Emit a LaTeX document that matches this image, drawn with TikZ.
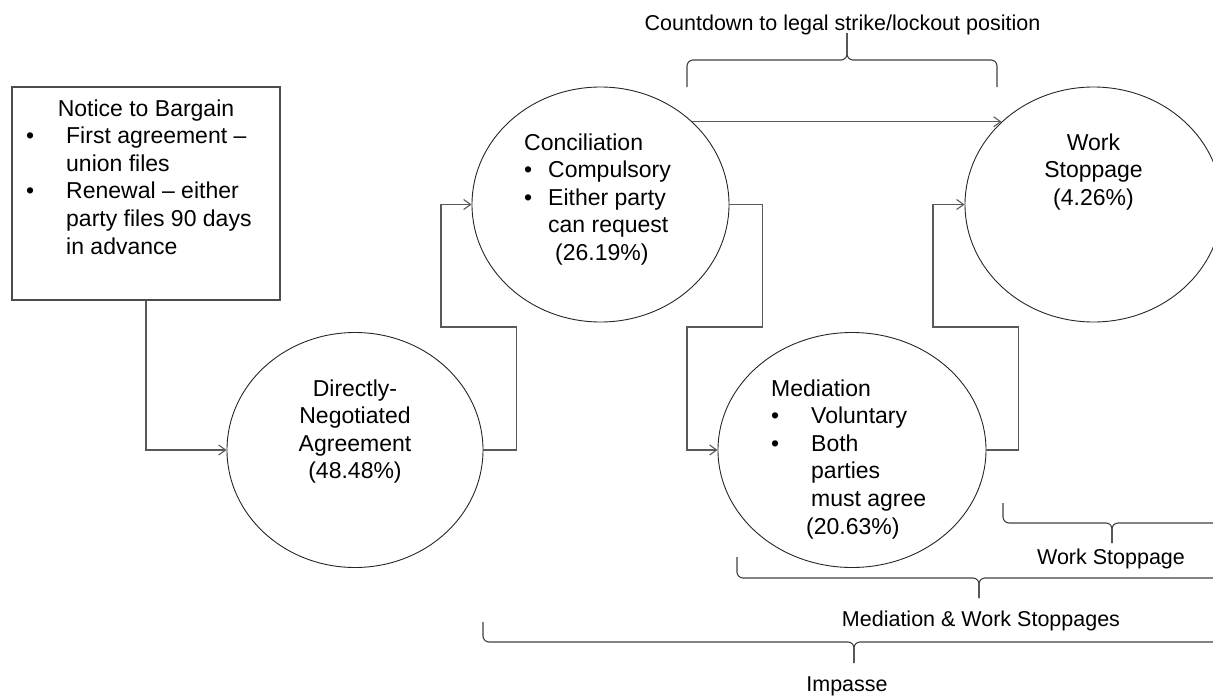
\documentclass[tikz,border=0pt]{standalone}
\usepackage{fontspec}
\setmainfont{Liberation Sans}
\usetikzlibrary{shapes.geometric,arrows.meta}
\begin{document}
\begin{tikzpicture}[x=1pt,y=-1pt,
  ell/.style={draw=black!85,line width=0.9pt,ellipse,inner sep=0pt,minimum height=235pt},
  boxst/.style={draw=black!70,line width=1.1pt,rectangle,inner sep=0pt,minimum width=268pt,minimum height=213pt},
  conn/.style={draw=black!65,line width=1.1pt,-{Straight Barb[length=7pt,width=10pt]}},
  brc/.style={draw=black!75,line width=1.1pt,rounded corners=6pt},
  txt/.style={inner sep=0pt,font=\fontsize{23}{27.6}\selectfont},
  lbl/.style={inner sep=0pt,font=\fontsize{21.5}{25}\selectfont}]
\useasboundingbox (0,0) rectangle (1213,696);
\clip (0,0) rectangle (1213,696);

% shapes
\node[boxst] (box) at (146,193.5) {};
\node[ell,minimum width=256pt] (da) at (355,450) {};
\node[ell,minimum width=257pt] (con) at (600.5,204.5) {};
\node[ell,minimum width=257pt] (ws) at (1093.5,204.5) {};
\node[ell,minimum width=268pt] (med) at (852,450) {};

% texts
\node[txt,anchor=base] (nbt) at (146,116) {Notice to Bargain};
\node[txt,anchor=base west] (nbl) at (26,143.6) {\begin{tabular}[t]{@{}l@{}l@{}}\makebox[40pt][l]{\textbullet} & First agreement –\\ & union files\\ \textbullet & Renewal – either\\ & party files 90 days\\ & in advance\end{tabular}};

\node[txt,anchor=base] (dat) at (355,396) {\begin{tabular}[t]{@{}c@{}}Directly-\\ Negotiated\\ Agreement\\ (48.48\%)\end{tabular}};

\node[txt,anchor=base west] (cont) at (524,150) {\begin{tabular}[t]{@{}l@{}l@{}}\multicolumn{2}{@{}l@{}}{Conciliation}\\ \makebox[24pt][l]{\textbullet} & Compulsory\\ \textbullet & Either party\\ & can request\\ & \hspace*{7pt}(26.19\%)\end{tabular}};

\node[txt,anchor=base] (wst) at (1093.5,150) {\begin{tabular}[t]{@{}c@{}}Work\\ Stoppage\\ (4.26\%)\end{tabular}};

\node[txt,anchor=base west] (medt) at (771,396) {\begin{tabular}[t]{@{}l@{}l@{}}\multicolumn{2}{@{}l@{}}{Mediation}\\ \makebox[40pt][l]{\textbullet} & Voluntary\\ \textbullet & Both\\ & parties\\ & must agree\\ & \hspace*{-5pt}(20.63\%)\end{tabular}};

% connectors
\draw[conn] (box.south) |- (da.west);
\draw[conn] (da.east) -- ++(33,0) |- (441,327) |- (con.west);
\draw[conn] (con.east) -- ++(33,0) |- (687,327) |- (med.west);
\draw[conn] (med.east) -- ++(32,0) |- (933,327) |- (ws.west);
\draw[conn] (con.42) -- (ws.138);

% braces
\draw[brc] (687,87) -- (687,60) -- (847,60) -- (847,33);
\draw[brc] (847,33) -- (847,60) -- (997,60) -- (997,87);
\node[lbl,anchor=base] (cdl) at (842.5,30) {Countdown to legal strike/lockout position};

\draw[brc] (1003,503) -- (1003,523) -- (1112,523) -- (1112,543);
\draw[brc] (1112,543) -- (1112,523) -- (1225,523) -- (1225,503);
\node[lbl,anchor=base] (wsl) at (1111,564) {Work Stoppage};

\draw[brc] (737,557) -- (737,578) -- (979,578) -- (979,598);
\draw[brc] (979,598) -- (979,578) -- (1225,578) -- (1225,557);
\node[lbl,anchor=base] (mwl) at (981,626) {Mediation \& Work Stoppages};

\draw[brc] (483,622) -- (483,642) -- (854,642) -- (854,663);
\draw[brc] (854,663) -- (854,642) -- (1230,642) -- (1230,622);
\node[lbl,anchor=base] (imp) at (847,691) {Impasse};
\end{tikzpicture}
\end{document}
